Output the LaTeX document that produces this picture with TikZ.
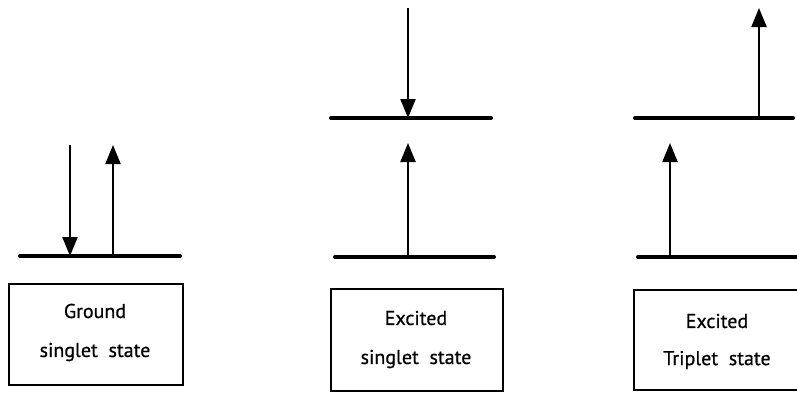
\documentclass[tikz,border=0pt]{standalone}
\usepackage{fontspec}
\setmainfont[FakeBold=0.6]{PT Sans}
\usetikzlibrary{arrows.meta}
\begin{document}
\begin{tikzpicture}[x=1pt,y=-1pt,
  level/.style={line width=4pt, line cap=round},
  spin/.style={line width=2.2pt, -{Triangle[length=19pt,width=15pt]}},
  statebox/.style={draw, line width=2pt, inner sep=0pt, anchor=north west},
  lbl/.style={font=\fontsize{20}{24}\selectfont}
]
\useasboundingbox (0,0) rectangle (797,392);
\clip (0,0) rectangle (797,392);
% Group 1
\coordinate (g1l) at (20,256); \coordinate (g1r) at (180,256);
\draw[level] (g1l) -- (g1r);
\coordinate (g1a) at (70,145); \coordinate (g1ae) at (70,256);
\coordinate (g1b) at (113,256); \coordinate (g1be) at (113,145);
\draw[spin] (g1a) -- (g1ae);
\draw[spin] (g1b) -- (g1be);
\node[statebox, minimum width=174pt, minimum height=101pt] (box1) at (8,283) {};
\node[lbl] (t1a) at (95,311) {Ground};
\node[lbl] (t1b) at (95,352) {singlet\ \ state};
% Group 2
\coordinate (g2ul) at (331,118); \coordinate (g2ur) at (491,118);
\coordinate (g2ll) at (335,257); \coordinate (g2lr) at (494,257);
\draw[level] (g2ul) -- (g2ur);
\draw[level] (g2ll) -- (g2lr);
\coordinate (g2a) at (408,8); \coordinate (g2ae) at (408,118);
\coordinate (g2b) at (408,257); \coordinate (g2be) at (408,143);
\draw[spin] (g2a) -- (g2ae);
\draw[spin] (g2b) -- (g2be);
\node[statebox, minimum width=172pt, minimum height=102pt] (box2) at (330,288) {};
\node[lbl] (t2a) at (416,318) {Excited};
\node[lbl] (t2b) at (416,359) {singlet\ \ state};
% Group 3
\coordinate (g3ul) at (635,118); \coordinate (g3ur) at (793,118);
\coordinate (g3ll) at (638,257); \coordinate (g3lr) at (800,257);
\draw[level] (g3ul) -- (g3ur);
\draw[level] (g3ll) -- (g3lr);
\coordinate (g3a) at (759,118); \coordinate (g3ae) at (759,8);
\coordinate (g3b) at (670,257); \coordinate (g3be) at (670,143);
\draw[spin] (g3a) -- (g3ae);
\draw[spin] (g3b) -- (g3be);
\node[statebox, minimum width=172pt, minimum height=100pt] (box3) at (633,289) {};
\node[lbl] (t3a) at (717,321) {Excited};
\node[lbl] (t3b) at (717,360) {Triplet\ \ state};
\end{tikzpicture}
\end{document}
